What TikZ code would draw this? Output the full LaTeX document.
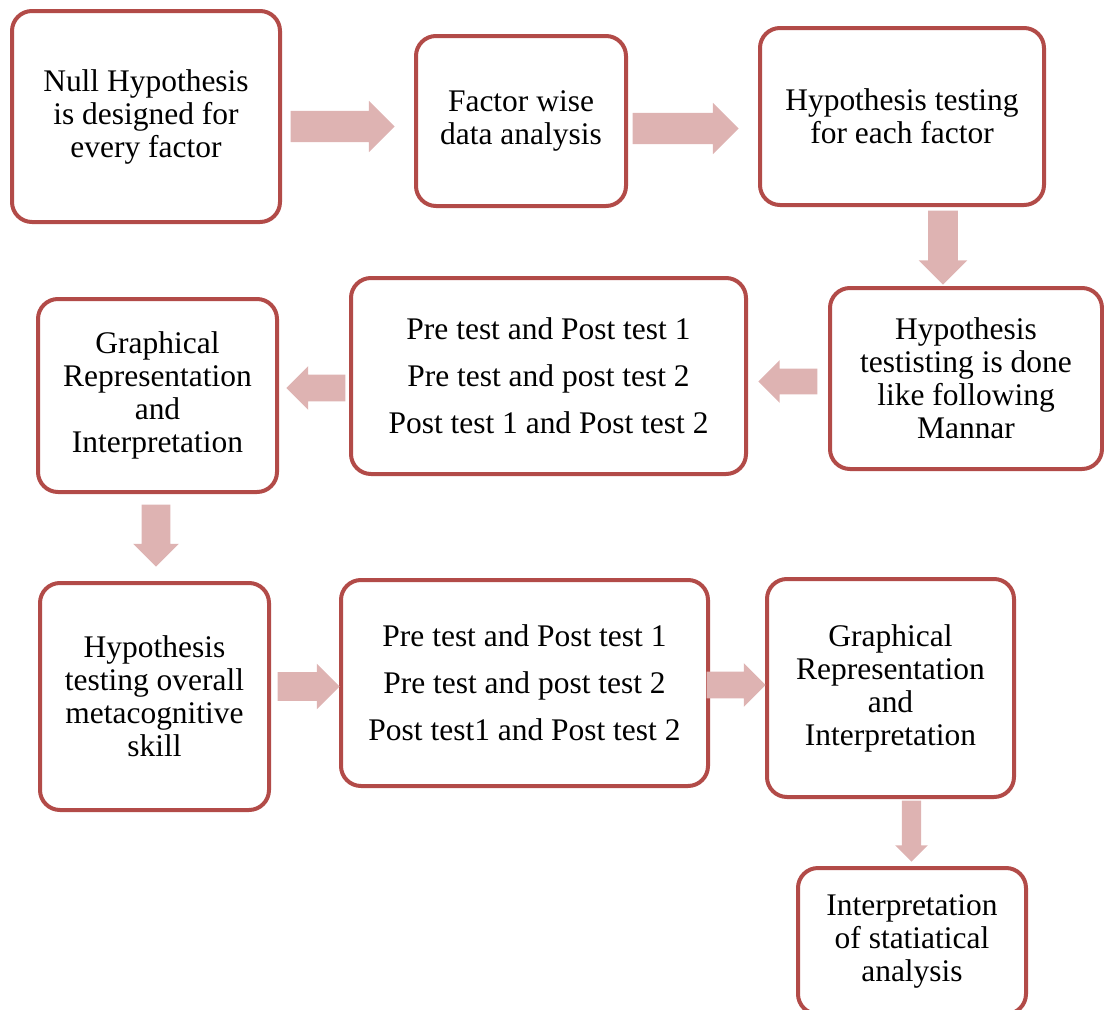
\documentclass[tikz,border=0pt]{standalone}
\usepackage{fontspec}
\setmainfont{Liberation Serif}
\usepackage{tikz}
\usetikzlibrary{shapes,shapes.arrows}
\definecolor{boxred}{RGB}{178,75,72}
\definecolor{arrpink}{RGB}{222,179,178}
\tikzstyle{stepbox} = [draw=boxred, line width=3pt, rounded corners=15pt, align=center, inner sep=0pt, font=\fontsize{23.6}{24.75}\selectfont]
\tikzstyle{listbox} = [stepbox, font=\fontsize{23.6}{35.25}\selectfont]
\tikzstyle{blk} = [single arrow, fill=arrpink, draw=none, inner xsep=0pt, single arrow tip angle=90, minimum width=0pt, anchor=tip]

\begin{document}
\begin{tikzpicture}[x=0.75pt,y=-0.75pt]
    \clip (0,0) rectangle (1104,1010);
    % first row
    \node[stepbox, minimum width=201pt, minimum height=158.25pt] (null) at (146,116.5) {Null Hypothesis\\is designed for\\every factor};
    \node[stepbox, minimum width=157.5pt, minimum height=127.5pt] (fwise) at (521,121) {Factor wise\\data analysis};
    \node[stepbox, minimum width=213pt, minimum height=132.75pt] (htest) at (902,116.5) {Hypothesis testing\\for each factor};
    % second row
    \node[stepbox, minimum width=204pt, minimum height=135.75pt] (mannar) at (966,378.5) {Hypothesis\\testisting is done\\like following\\Mannar};
    \node[listbox, minimum width=296.25pt, minimum height=147pt] (pairs1) at (548.5,376) {Pre test and Post test 1\\Pre test and post test 2\\Post test 1 and Post test 2};
    \node[stepbox, minimum width=179.25pt, minimum height=144.75pt] (graph1) at (157.5,395.5) {Graphical\\Representation\\and\\Interpretation};
    % third row
    \node[stepbox, minimum width=171.75pt, minimum height=170.25pt] (overall) at (154.5,696.5) {Hypothesis\\testing overall\\metacognitive\\skill};
    \node[listbox, minimum width=275.25pt, minimum height=154.5pt] (pairs2) at (524.5,683) {Pre test and Post test 1\\Pre test and post test 2\\Post test1 and Post test 2};
    \node[stepbox, minimum width=185.25pt, minimum height=163.5pt] (graph2) at (890.5,688) {Graphical\\Representation\\and\\Interpretation};
    \node[stepbox, minimum width=171pt, minimum height=109.5pt] (interp) at (912,941) {Interpretation\\of statiatical\\analysis};
    % block arrows, placed by their tips
    \node[blk, minimum height=78pt, inner ysep=11.6pt, single arrow head extend=7.5pt] (a1) at (395,126.5) {};
    \node[blk, minimum height=79.5pt, inner ysep=11.6pt, single arrow head extend=7.5pt] (a2) at (739,128.5) {};
    \node[blk, minimum height=55.5pt, inner ysep=10.9pt, single arrow head extend=7.1pt, rotate=-90] (a3) at (943,285) {};
    \node[blk, minimum height=44.25pt, inner ysep=9.4pt, single arrow head extend=6.4pt, rotate=180] (a4) at (758,381.5) {};
    \node[blk, minimum height=44.25pt, inner ysep=9.75pt, single arrow head extend=6.4pt, rotate=180] (a5) at (286,388) {};
    \node[blk, minimum height=46.5pt, inner ysep=10.5pt, single arrow head extend=6.4pt, rotate=-90] (a6) at (156,567) {};
    \node[blk, minimum height=46.5pt, inner ysep=10.5pt, single arrow head extend=6.4pt] (a7) at (340,686.5) {};
    \node[blk, minimum height=44.25pt, inner ysep=9.75pt, single arrow head extend=6.4pt] (a8) at (766,685) {};
    \node[blk, minimum height=45.75pt, inner ysep=7.1pt, single arrow head extend=4.9pt, rotate=-90] (a9) at (911.5,862) {};
\end{tikzpicture}
\end{document}
